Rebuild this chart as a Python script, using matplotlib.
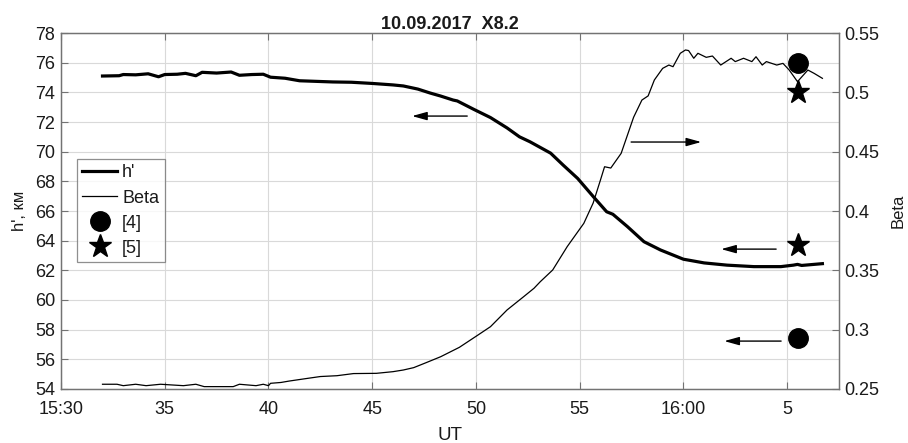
import matplotlib
matplotlib.use("Agg")
import matplotlib.pyplot as plt
from matplotlib.lines import Line2D
from matplotlib.ticker import FormatStrFormatter

plt.rcParams['font.family'] = ['Liberation Sans', 'DejaVu Sans']

# time in minutes after 15:30 UT
h_time = [2.0, 2.8, 3.0, 3.6, 4.2, 4.7, 5.0, 5.6, 6.0, 6.5, 6.8, 7.5, 8.2, 8.6, 9.2,
          9.75, 10.1, 10.8, 11.5, 12.3, 13.1, 14.0, 15.0, 16.0, 16.5, 17.2, 17.8,
          18.3, 18.9, 19.1, 19.9, 20.7, 21.5, 22.1, 22.6, 23.6, 24.2, 24.9, 25.7,
          26.3, 26.6, 27.3, 28.1, 28.9, 30.0, 31.0, 32.1, 33.4, 34.7, 35.3, 35.5,
          35.7, 36.7]
h_vals = [75.10, 75.12, 75.20, 75.18, 75.25, 75.05, 75.20, 75.22, 75.28, 75.12, 75.35,
          75.30, 75.37, 75.15, 75.20, 75.22, 75.02, 74.95, 74.78, 74.74, 74.70, 74.68,
          74.60, 74.50, 74.43, 74.22, 73.95, 73.75, 73.48, 73.42, 72.85, 72.30, 71.60,
          71.00, 70.67, 69.90, 69.10, 68.20, 66.90, 65.95, 65.78, 64.95, 63.93, 63.37,
          62.75, 62.50, 62.35, 62.25, 62.25, 62.35, 62.40, 62.33, 62.45]

beta_time = [2.0, 2.7, 3.0, 3.6, 4.1, 4.8, 5.9, 6.5, 6.9, 8.3, 8.6, 9.4, 9.75, 10.0,
             10.1, 10.6, 11.0, 11.9, 12.5, 13.3, 14.1, 15.2, 16.0, 16.5, 17.0, 17.6,
             18.3, 19.2, 20.1, 20.7, 21.5, 22.3, 22.8, 23.1, 23.7, 24.4, 25.2, 25.65,
             26.0, 26.2, 26.5, 27.0, 27.6, 28.0, 28.3, 28.6, 29.0, 29.3, 29.5, 29.85,
             30.1, 30.25, 30.5, 30.7, 31.1, 31.4, 31.8, 32.3, 32.5, 32.9, 33.3, 33.5,
             33.8, 34.0, 34.5, 34.8, 35.1, 35.5, 36.0, 36.3, 36.7]
beta_vals = [0.2540, 0.2540, 0.2528, 0.2540, 0.2528, 0.2540, 0.2528, 0.2540, 0.2520,
             0.2520, 0.2540, 0.2528, 0.2540, 0.2528, 0.2548, 0.2555, 0.2567, 0.2590,
             0.2605, 0.2612, 0.2630, 0.2632, 0.2646, 0.2660, 0.2680, 0.2722, 0.2772,
             0.2851, 0.2955, 0.3025, 0.3166, 0.3278, 0.3349, 0.3404, 0.3503, 0.3700,
             0.3896, 0.4067, 0.4260, 0.4373, 0.4362, 0.4486, 0.4790, 0.4935, 0.4970,
             0.5104, 0.5202, 0.5230, 0.5216, 0.5329, 0.5357, 0.5352, 0.5287, 0.5329,
             0.5295, 0.5306, 0.5230, 0.5287, 0.5259, 0.5287, 0.5259, 0.5300, 0.5230,
             0.5259, 0.5230, 0.5244, 0.5188, 0.5090, 0.5188, 0.5160, 0.5118]

# reference values [4] (circle) and [5] (star)
ref_time = 35.5
ref4_h, ref4_beta = 57.45, 0.525
ref5_h, ref5_beta = 63.7, 0.500

x_ticks = [0, 5, 10, 15, 20, 25, 30, 35]
x_labels = ['15:30', '35', '40', '45', '50', '55', '16:00', '5']
h_ticks = list(range(54, 79, 2))
beta_ticks = [0.25, 0.30, 0.35, 0.40, 0.45, 0.50, 0.55]

# arrows (x_start, x_end, y) in h' units
arrows = [(19.58, 16.92, 72.4), (27.48, 30.86, 70.65),
          (34.47, 31.82, 63.43), (34.71, 31.97, 57.23)]

fig = plt.figure(figsize=(9.08, 4.43), dpi=100)
ax = fig.add_axes([0.0672, 0.1219, 0.8568, 0.8036])
ax2 = ax.twinx()

spine_c = '0.45'
txt_c = '0.1'
fs = 13

ax.plot(h_time, h_vals, color='black', lw=2.3, solid_joinstyle='round')
ax2.plot(beta_time, beta_vals, color='black', lw=0.9)

ax2.plot([ref_time], [ref4_beta], 'o', color='black', ms=14)
ax2.plot([ref_time], [ref5_beta], '*', color='black', ms=17)
ax.plot([ref_time], [ref4_h], 'o', color='black', ms=14)
ax.plot([ref_time], [ref5_h], '*', color='black', ms=17)

for xs, xe, yy in arrows:
    ax.annotate('', xy=(xe, yy), xytext=(xs, yy),
                arrowprops=dict(arrowstyle='-|>,head_length=0.9,head_width=0.25',
                                color='black', lw=1.0, shrinkA=0, shrinkB=0))

ax.set_xlim(0, 37.5)
ax.set_ylim(54, 78)
ax2.set_ylim(0.25, 0.55)
ax.set_xticks(x_ticks)
ax.set_xticklabels(x_labels)
ax.set_yticks(h_ticks)
ax2.set_yticks(beta_ticks)
ax2.yaxis.set_major_formatter(FormatStrFormatter('%g'))

ax.grid(True, color='0.85', lw=0.8)
ax.set_axisbelow(True)

for a in (ax, ax2):
    for s in a.spines.values():
        s.set_color(spine_c)
        s.set_linewidth(0.9)
ax.tick_params(axis='x', direction='in', length=5, width=0.8, color=spine_c,
               labelsize=fs, labelcolor=txt_c, top=True, pad=9)
ax.tick_params(axis='y', direction='in', length=5, width=0.8, color=spine_c,
               labelsize=fs, labelcolor=txt_c, pad=4)
ax2.tick_params(axis='y', direction='in', length=5, width=0.8, color=spine_c,
                labelsize=fs, labelcolor=txt_c, pad=4)

ax.set_xlabel('UT', fontsize=13.5, color=txt_c, labelpad=6)
ax.set_ylabel("h', км", fontsize=12, color=txt_c, labelpad=6)
ax2.set_ylabel('Beta', fontsize=12, color=txt_c, labelpad=8)
ax.set_title('10.09.2017  X8.2', fontsize=13, fontweight='bold', color=txt_c, pad=2.5)

handles = [Line2D([], [], color='black', lw=2.3),
           Line2D([], [], color='black', lw=0.9),
           Line2D([], [], color='black', marker='o', ls='none', ms=14),
           Line2D([], [], color='black', marker='*', ls='none', ms=17)]
labels = ["h'", 'Beta', '[4]', '[5]']
leg = ax2.legend(handles, labels, loc='upper left', bbox_to_anchor=(0.0206, 0.646),
                 borderaxespad=0, fontsize=fs, frameon=True, fancybox=False,
                 handlelength=1.9, handletextpad=0.3, labelspacing=0.45,
                 borderpad=0.3)
leg.get_frame().set_edgecolor(spine_c)
leg.get_frame().set_linewidth(0.9)
for t in leg.get_texts():
    t.set_color(txt_c)

fig.savefig('out.png', dpi=100)
